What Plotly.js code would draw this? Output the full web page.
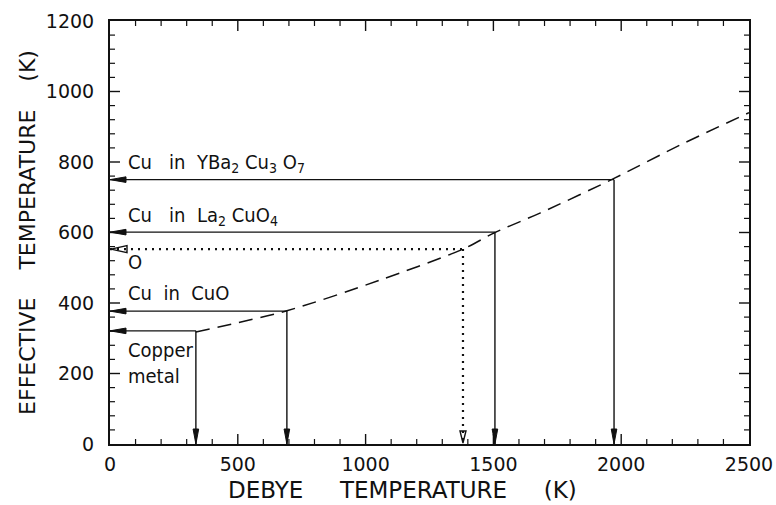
<!DOCTYPE html>
<html>
<head>
<meta charset="utf-8">
<script src="https://cdn.plot.ly/plotly-3.0.1.min.js"></script>
<style>
  html, body { margin: 0; padding: 0; background: #fff; }
  #chart { width: 776px; height: 505px; }
</style>
</head>
<body>
<div id="chart"></div>
<script>
// ---- data ----
const curveDebye = [336, 692, 1056, 1381, 1506, 1682, 1968, 2230, 2500];
const curveEff   = [318, 378, 465, 553, 600, 655, 752, 848, 940];

const markDebye = [336, 692, 1381, 1506, 1972];
const markEff   = [321, 377, 553, 601, 750];
const markKind  = ['solid', 'solid', 'dot', 'solid', 'solid'];
const markLabel = ['Copper<br>metal', 'Cu  in  CuO', 'O', 'Cu   in  La<sub>2</sub> CuO<sub>4</sub>', 'Cu   in  YBa<sub>2</sub> Cu<sub>3</sub> O<sub>7</sub>'];

const xRange = [0, 2500], yRange = [0, 1200];
const xTickStep = 500, xMinorStep = 100;
const yTickStep = 200, yMinorStep = 40;

// ---- styling ----
const ink = '#111';
const labelFont = {family: 'DejaVu Sans Condensed, Liberation Sans Narrow, DejaVu Sans, sans-serif', size: 20, color: ink};
const labelDy = [-90, 52, -38, 46, 47];   // label offset from its level (style only)

const shapes = [];
const annotations = [];

// tick marks on all four sides (inside), built from the tick steps
function pushTick(isX, v, major, side) {
  const len = major ? 10 : 5;
  const line = {color: ink, width: major ? 1.4 : 1.2};
  if (isX) {
    shapes.push({type: 'line', xref: 'x', yref: 'paper', ysizemode: 'pixel', yanchor: side,
      x0: v, x1: v, y0: 0, y1: side === 0 ? len : -len, line, layer: 'above'});
  } else {
    shapes.push({type: 'line', xref: 'paper', yref: 'y', xsizemode: 'pixel', xanchor: side,
      y0: v, y1: v, x0: 0, x1: side === 0 ? len : -len, line, layer: 'above'});
  }
}
for (let v = xRange[0]; v <= xRange[1]; v += xMinorStep) {
  const major = v % xTickStep === 0;
  if (v > xRange[0] && v < xRange[1]) { pushTick(true, v, major, 0); pushTick(true, v, major, 1); }
}
for (let v = yRange[0]; v <= yRange[1]; v += yMinorStep) {
  const major = v % yTickStep === 0;
  if (v > yRange[0] && v < yRange[1]) { pushTick(false, v, major, 0); pushTick(false, v, major, 1); }
}

markDebye.forEach((d, i) => {
  const e = markEff[i];
  const dotted = markKind[i] === 'dot';
  const line = dotted ? {color: ink, width: 2.2, dash: '2px,5px'} : {color: ink, width: 1.4};
  shapes.push({type: 'line', xref: 'x', yref: 'y', x0: 0, x1: d, y0: e, y1: e, line});
  shapes.push({type: 'line', xref: 'x', yref: 'y', x0: d, x1: d, y0: e, y1: 0, line});
  const headFill = dotted ? 'rgba(0,0,0,0)' : ink;
  const headLine = {color: ink, width: dotted ? 1.4 : 1};
  shapes.push({type: 'path', xref: 'x', yref: 'y', xsizemode: 'pixel', ysizemode: 'pixel',
    xanchor: 0, yanchor: e,
    path: dotted ? 'M1,0 L17,3.5 L17,-3.5 Z' : 'M0,0 L16,2.8 L16,-2.8 Z',
    fillcolor: headFill, line: headLine});
  shapes.push({type: 'path', xref: 'x', yref: 'y', xsizemode: 'pixel', ysizemode: 'pixel',
    xanchor: d, yanchor: 0,
    path: dotted ? 'M0,1 L-3,13 L3,13 Z' : 'M0,0 L-2.8,15 L2.8,15 Z',
    fillcolor: headFill, line: headLine});
  annotations.push({
    xref: 'x', yref: 'y', x: 62, y: e + labelDy[i],
    xanchor: 'left', yanchor: 'middle', align: 'left',
    text: markLabel[i], showarrow: false, font: labelFont
  });
});

// x-axis title (placed as an annotation to match the reference's offset)
annotations.push({
  xref: 'paper', yref: 'paper', x: 0.458, y: -0.108, xanchor: 'center', yanchor: 'middle',
  text: 'DEBYE     TEMPERATURE     (K)', showarrow: false,
  font: {family: 'DejaVu Sans, sans-serif', size: 23, color: ink}
});

const traces = [{
  x: curveDebye, y: curveEff, type: 'scatter', mode: 'lines',
  line: {color: ink, width: 1.5, dash: '14px,8px', shape: 'spline', smoothing: 0.8},
  hoverinfo: 'skip', showlegend: false
}];

const tickFont = {family: 'DejaVu Sans, sans-serif', size: 19, color: ink};

const layout = {
  width: 776, height: 505,
  margin: {l: 110, r: 27, t: 21, b: 61},
  paper_bgcolor: '#fff', plot_bgcolor: '#fff',
  showlegend: false,
  xaxis: {
    range: xRange, tickmode: 'linear', tick0: 0, dtick: xTickStep, ticks: '',
    showline: true, linecolor: ink, linewidth: 2, mirror: true,
    showgrid: false, zeroline: false, tickfont: tickFont, ticklabelstandoff: 2
  },
  yaxis: {
    range: yRange, tickmode: 'linear', tick0: 0, dtick: yTickStep, ticks: '',
    showline: true, linecolor: ink, linewidth: 2, mirror: true,
    showgrid: false, zeroline: false, tickfont: tickFont, ticklabelstandoff: 10,
    title: {text: 'EFFECTIVE    TEMPERATURE    (K)', font: {family: 'DejaVu Sans, sans-serif', size: 22, color: ink}, standoff: 4}
  },
  shapes, annotations
};

Plotly.newPlot('chart', traces, layout, {displayModeBar: false, staticPlot: true});
</script>
</body>
</html>
